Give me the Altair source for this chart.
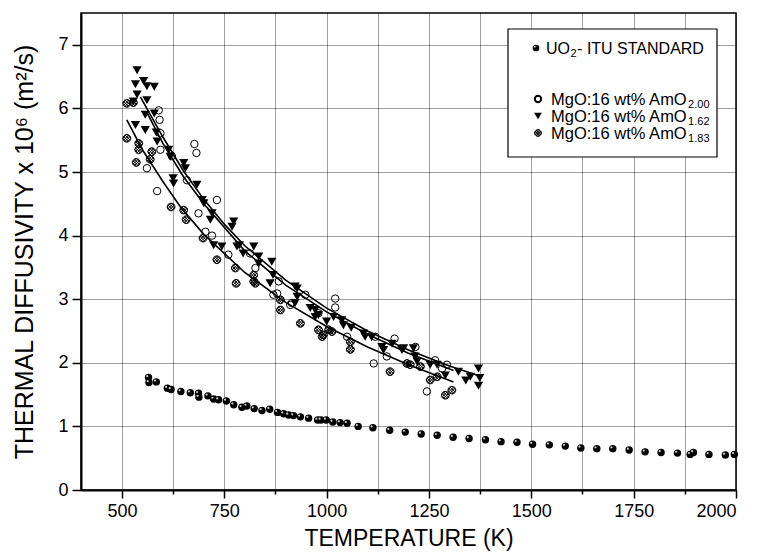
import altair as alt
import pandas as pd

# ---------------- data ----------------
uo2_T = [565, 566, 584, 611, 620, 644, 667, 687, 688, 710, 724, 736, 755, 773, 793, 805, 823, 842,
         861, 880, 895, 907, 919, 936, 956, 978, 986, 999, 1015, 1033, 1050, 1077, 1113, 1154, 1192,
         1231, 1270, 1309, 1348, 1388, 1426, 1465, 1503, 1544, 1583, 1621, 1660, 1699, 1739, 1778,
         1817, 1857, 1888, 1896, 1934, 1974, 1996]
uo2_D = [1.77, 1.69, 1.70, 1.60, 1.58, 1.55, 1.53, 1.52, 1.46, 1.48, 1.43, 1.42, 1.40, 1.34, 1.30,
         1.32, 1.28, 1.25, 1.27, 1.22, 1.20, 1.18, 1.17, 1.15, 1.13, 1.10, 1.10, 1.10, 1.07, 1.06,
         1.05, 1.00, 0.98, 0.94, 0.91, 0.88, 0.86, 0.83, 0.81, 0.79, 0.76, 0.75, 0.72, 0.71, 0.69,
         0.66, 0.65, 0.65, 0.63, 0.60, 0.59, 0.58, 0.56, 0.59, 0.56, 0.55, 0.56]

am200_T = [590, 592, 594, 594, 622, 561, 586, 677, 682, 659, 732, 687, 704, 720, 760, 813, 826, 870,
           883, 879, 911, 948, 915, 1021, 1021, 980, 1050, 1119, 1147, 1166, 1217, 1115, 1265, 1294,
           1245, 1282]
am200_D = [5.97, 5.82, 5.61, 5.35, 5.25, 5.06, 4.70, 5.44, 5.30, 4.87, 4.56, 4.35, 4.06, 4.00, 3.70,
           3.72, 3.49, 3.07, 3.28, 3.09, 2.91, 3.07, 2.94, 3.01, 2.87, 2.78, 2.41, 2.41, 2.10, 2.38,
           2.25, 1.99, 2.04, 1.97, 1.55, 1.91]

am162_T = [537, 533, 553, 561, 579, 537, 528, 561, 557, 579, 533, 557, 584, 586, 614, 618, 651, 655,
           625, 626, 683, 696, 700, 716, 720, 773, 769, 724, 744, 781, 787, 796, 822, 834, 834, 866,
           869, 862, 923, 928, 928, 923, 960, 972, 972, 980, 1017, 1037, 1041, 1000, 1060, 1090, 1094,
           1110, 1135, 1139, 1160, 1184, 1188, 1212, 1216, 1221, 1253, 1270, 1290, 1322, 1340, 1351,
           1371, 1374, 1371]
am162_D = [6.60, 6.38, 6.43, 6.35, 6.34, 6.22, 6.11, 6.13, 5.90, 5.92, 5.74, 5.66, 5.62, 5.48, 5.35,
           5.24, 5.14, 5.06, 4.90, 4.82, 4.80, 4.56, 4.51, 4.25, 4.35, 4.22, 4.14, 3.85, 3.83, 3.83,
           3.85, 3.72, 3.83, 3.67, 3.56, 3.59, 3.38, 3.25, 3.20, 3.17, 3.04, 2.94, 2.86, 2.83, 2.72,
           2.75, 2.72, 2.67, 2.59, 2.65, 2.55, 2.46, 2.41, 2.40, 2.25, 2.20, 2.30, 2.20, 2.23, 2.23,
           2.10, 2.02, 1.97, 1.97, 1.80, 1.86, 1.72, 1.78, 1.91, 1.76, 1.64]

am183_T = [512, 528, 512, 541, 541, 573, 569, 535, 620, 651, 657, 698, 732, 777, 779, 822, 822, 826,
           887, 887, 936, 980, 989, 992, 1005, 1013, 1058, 1058, 1155, 1196, 1204, 1229, 1253, 1270,
           1290, 1306]
am183_D = [6.08, 6.09, 5.53, 5.45, 5.35, 5.32, 5.20, 5.15, 4.45, 4.40, 4.25, 3.96, 3.62, 3.49, 3.25,
           3.38, 3.28, 3.25, 2.99, 2.83, 2.62, 2.52, 2.41, 2.44, 2.52, 2.49, 2.33, 2.21, 1.86, 1.99,
           1.97, 1.94, 1.73, 1.78, 1.49, 1.57]

fit162_T = [545, 600, 650, 700, 750, 800, 900, 1000, 1100, 1200, 1300, 1370]
fit162_D = [6.18, 5.55, 5.02, 4.57, 4.18, 3.84, 3.30, 2.86, 2.50, 2.20, 1.95, 1.80]
fit200_T = [560, 600, 650, 700, 800, 900, 1000, 1100, 1200, 1310]
fit200_D = [5.95, 5.45, 4.93, 4.50, 3.76, 3.22, 2.80, 2.45, 2.15, 1.88]
fit183_T = [512, 550, 600, 643, 700, 800, 900, 1000, 1100, 1200, 1310]
fit183_D = [5.82, 5.35, 4.85, 4.45, 4.02, 3.42, 2.95, 2.57, 2.25, 1.97, 1.70]

x_ticks = list(range(500, 2001, 125))
y_ticks = [i * 0.5 for i in range(0, 16)]

# legend texts: main part, subscript, tail
legend_main = ["UO", "MgO:16 wt% AmO", "MgO:16 wt% AmO", "MgO:16 wt% AmO"]
legend_sub = ["2", "2.00", "1.62", "1.83"]
legend_tail = ["- ITU STANDARD", "", "", ""]

# ---------------- frames ----------------
def frame(T, D, s):
    return pd.DataFrame({"T": T, "D": D, "s": s})

uo2 = frame(uo2_T, uo2_D, "uo2")
a200 = frame(am200_T, am200_D, "a200")
a162 = frame(am162_T, am162_D, "a162")
a183 = frame(am183_T, am183_D, "a183")
fits = pd.concat([frame(fit162_T, fit162_D, "f162"),
                  frame(fit200_T, fit200_D, "f200"),
                  frame(fit183_T, fit183_D, "f183")])

FONT = "Liberation Sans"
xs = alt.Scale(domain=[400, 2000], nice=False, zero=False)
ys = alt.Scale(domain=[0, 7.5], nice=False)

x_axis = alt.Axis(values=x_ticks, format="d",
                  labelExpr="datum.value % 250 == 0 ? datum.label : ''",
                  tickSize={"condition": {"test": "datum.value % 250 == 0", "value": 8}, "value": 4},
                  title="TEMPERATURE (K)")
y_axis = alt.Axis(values=y_ticks, format="d",
                  labelExpr="datum.value % 1 == 0 ? datum.label : ''",
                  tickSize={"condition": {"test": "datum.value % 1 == 0", "value": 9}, "value": 4},
                  title="THERMAL DIFFUSIVITY x 10\u2076 (m\u00b2/s)")

def enc(ch):
    return ch.encode(x=alt.X("T:Q", scale=xs, axis=x_axis),
                     y=alt.Y("D:Q", scale=ys, axis=y_axis))

lines = enc(alt.Chart(fits).mark_line(color="black", strokeWidth=1.6)).encode(detail="s:N")

HATCH = ("M-1,0A1,1 0 1,1 1,0A1,1 0 1,1 -1,0Z "
         "M-0.510,-0.860L0.860,0.510 M-0.860,-0.510L0.510,0.860 "
         "M0.051,-0.999L0.999,-0.051 M-0.999,0.051L-0.051,0.999 "
         "M-0.510,0.860L0.860,-0.510 M-0.860,0.510L0.510,-0.860 "
         "M0.051,0.999L0.999,0.051 M-0.999,-0.051L-0.051,-0.999")

p_uo2 = enc(alt.Chart(uo2).mark_point(shape="circle", filled=True, color="black", size=55, opacity=1))
p_uo2h = enc(alt.Chart(uo2).mark_point(shape="circle", filled=True, color="#c8c8c8", size=5,
                                        opacity=1, xOffset=-1.3, yOffset=-1.3))
p_200 = enc(alt.Chart(a200).mark_point(shape="circle", filled=False, color="black", size=55,
                                       strokeWidth=1, opacity=1))
p_183 = enc(alt.Chart(a183).mark_point(shape=HATCH, filled=False, color="black", size=60,
                                       strokeWidth=1.0, opacity=1))
p_162 = enc(alt.Chart(a162).mark_point(shape="triangle-down", filled=True, color="black", size=85,
                                       opacity=1))

one = pd.DataFrame({"a": [0]})
box = alt.Chart(one).mark_rect(fill="white", stroke="black", strokeWidth=1.2).encode(
    x=alt.value(427), x2=alt.value(636), y=alt.value(16), y2=alt.value(144))

leg = [box]
sym_y = [35, 86, 103, 120]
sym_x = [455, 457, 457, 457]
leg.append(alt.Chart(one).mark_point(shape="circle", filled=True, color="black", size=45, opacity=1)
           .encode(x=alt.value(sym_x[0]), y=alt.value(sym_y[0])))
leg.append(alt.Chart(one).mark_point(shape="circle", filled=True, color="#c8c8c8", size=4, opacity=1,
                                     xOffset=-1.2, yOffset=-1.2)
           .encode(x=alt.value(sym_x[0]), y=alt.value(sym_y[0])))
leg.append(alt.Chart(one).mark_point(shape="circle", filled=False, color="black", size=40, opacity=1)
           .encode(x=alt.value(sym_x[1]), y=alt.value(sym_y[1])))
leg.append(alt.Chart(one).mark_point(shape="triangle-down", filled=True, color="black", size=60, opacity=1)
           .encode(x=alt.value(sym_x[2]), y=alt.value(sym_y[2])))
leg.append(alt.Chart(one).mark_point(shape=HATCH, filled=False, color="black", size=45, strokeWidth=1.0,
                                     opacity=1)
           .encode(x=alt.value(sym_x[3]), y=alt.value(sym_y[3])))

# Liberation Sans is metric-compatible with Arial: widths in em
AW = {"U": .722, "O": .778, "M": .833, "g": .556, ":": .278, "1": .556, "6": .556, " ": .278,
      "w": .722, "t": .278, "%": .889, "A": .667, "m": .833}
def width(s, fs):
    return sum(AW.get(c, .6) for c in s) * fs

txt_y = [41, 92, 109, 126]
txt_x = [465, 470, 470, 470]
main_fs = [16, 16.5, 16.5, 16.5]
sub_fs = [11, 11, 11, 11]
for i in range(4):
    x0 = txt_x[i]
    leg.append(alt.Chart(one).mark_text(text=legend_main[i], align="left", baseline="alphabetic",
                                        font=FONT, fontSize=main_fs[i], color="black")
               .encode(x=alt.value(x0), y=alt.value(txt_y[i])))
    x1 = x0 + width(legend_main[i], main_fs[i]) + 0.5
    leg.append(alt.Chart(one).mark_text(text=legend_sub[i], align="left", baseline="alphabetic",
                                        font=FONT, fontSize=sub_fs[i], color="black")
               .encode(x=alt.value(x1), y=alt.value(txt_y[i] + 3)))
    if legend_tail[i]:
        x2 = x1 + 0.556 * sub_fs[i] + 0.5
        leg.append(alt.Chart(one).mark_text(text=legend_tail[i], align="left", baseline="alphabetic",
                                            font=FONT, fontSize=main_fs[i], color="black")
                   .encode(x=alt.value(x2), y=alt.value(txt_y[i])))

chart = alt.layer(lines, p_uo2, p_uo2h, p_200, p_183, p_162, *leg).properties(
    width=655, height=477,
    padding={"left": 81, "top": 13, "right": 23, "bottom": 64},
    autosize=alt.AutoSizeParams(type="none"),
    background="white",
).configure_view(stroke="black", strokeWidth=1.5).configure_axis(
    grid=True, gridColor="#000000", gridDash=[1, 1], gridWidth=1, gridOpacity=0.75,
    domainColor="black", domainWidth=2, tickColor="black", tickWidth=1.5,
    labelFont=FONT, labelFontSize=18, labelColor="black", labelPadding=4,
    titleFont=FONT, titleFontSize=23, titleFontWeight="normal", titleColor="black",
).configure_axisX(titlePadding=7).configure_axisY(titlePadding=20, titleFontSize=25)

chart.save("out.html", embed_options={"renderer": "svg", "actions": False})
